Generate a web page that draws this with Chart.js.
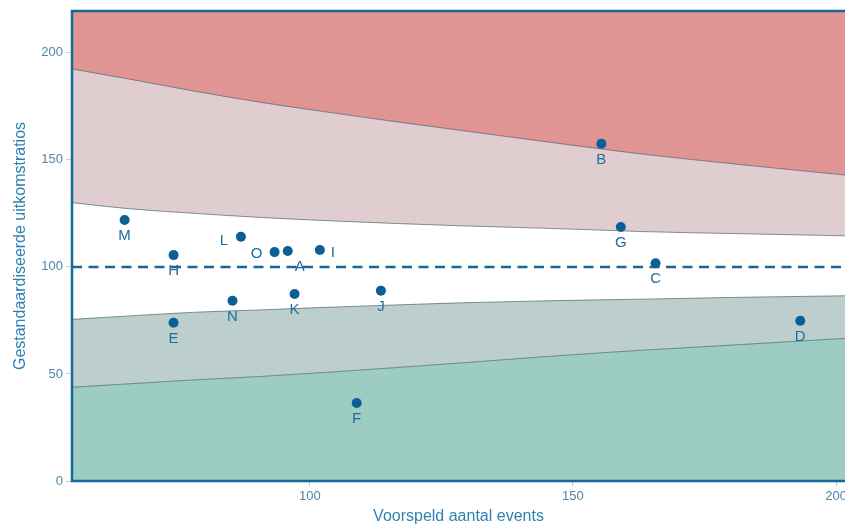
<!DOCTYPE html>
<html lang="nl">
<head>
<meta charset="utf-8">
<title>Funnelplot uitkomstratios</title>
<script src="https://cdn.jsdelivr.net/npm/chart.js@4/dist/chart.umd.min.js"></script>
<style>
  html, body { margin: 0; padding: 0; background: #ffffff; overflow: hidden; }
  #wrap { position: relative; width: 845px; height: 524px; }
</style>
</head>
<body>
<div id="wrap"><canvas id="funnel"></canvas></div>
<script>
// Ziekenhuizen (punten)
const pointLabels = ['A', 'B', 'C', 'D', 'E', 'F', 'G', 'H', 'I', 'J', 'K', 'L', 'M', 'N', 'O'];
const pointX = [95.8, 155.4, 165.7, 193.2, 74.1, 108.9, 159.1, 74.1, 101.9, 113.5, 97.1, 86.9, 64.8, 85.3, 93.3];
const pointY = [107.4, 157.5, 101.7, 74.8, 73.9, 36.4, 118.6, 105.5, 107.9, 88.9, 87.3, 114.1, 121.9, 84.2, 106.9];

const limitX = [54.8, 65, 78, 90.5, 103, 116, 128.5, 143.7, 155, 162.7, 181.7, 201.7];
const upperOuter = [192.4, 188.0, 182.1, 176.9, 172.4, 167.9, 163.8, 158.8, 155.2, 152.8, 147.8, 142.9];
const upperInner = [130.0, 127.3, 125.0, 123.1, 121.6, 120.3, 119.2, 118.1, 117.2, 116.5, 115.5, 114.5];
const lowerInner = [75.5, 77.0, 78.8, 79.9, 81.1, 82.2, 83.2, 84.1, 84.6, 84.9, 85.8, 86.5];
const lowerOuter = [43.8, 45.3, 47.2, 48.8, 50.7, 52.9, 55.1, 57.9, 59.8, 61.0, 63.7, 66.6];

const referenceValue = 100;
const xTicks = [100, 150, 200];
const yTicks = [0, 50, 100, 150, 200];

const COLORS = {
  redZone: '#e09494',
  pinkZone: '#e0cdcf',
  whiteZone: '#ffffff',
  greyZone: '#bccfcc',
  greenZone: '#9dcdc2',
  limitLine: 'rgba(40, 70, 90, 0.55)',
  point: '#0c5f95',
  pointLabel: '#1d6d9f',
  frame: '#15699a',
  refLine: '#1a6592',
  tickText: '#4f86a8',
  axisTitle: '#2f80b3',
  tickMark: '#c9c9c9',
};

const FONT = "'Liberation Sans', Arial, Helvetica, sans-serif";

const toXY = (ys) => ys.map((y, i) => ({ x: limitX[i], y }));

function limitDataset(label, values, fill, color) {
  return {
    type: 'line',
    label,
    data: toXY(values),
    borderColor: COLORS.limitLine,
    borderWidth: 1,
    backgroundColor: color,
    pointRadius: 0,
    cubicInterpolationMode: 'monotone',
    fill,
    order: 2,
  };
}

// Letters bij de punten: standaard onder het punt, enkele opzij (zoals in de bron)
const labelOffsets = { L: [-17, 4], O: [-18, 2], A: [12, 16], I: [13, 3] };

const overlayPlugin = {
  id: 'funnelOverlay',
  beforeDatasetsDraw(chart) {
    const { ctx, chartArea: a } = chart;
    ctx.save();
    ctx.fillStyle = COLORS.whiteZone;
    ctx.fillRect(a.left, a.top, a.right - a.left, a.bottom - a.top);
    ctx.restore();
  },
  afterDatasetsDraw(chart) {
    const { ctx, chartArea: a, scales } = chart;
    // referentielijn op 100
    const yRef = scales.y.getPixelForValue(referenceValue);
    ctx.save();
    ctx.beginPath();
    ctx.rect(a.left, a.top, a.right - a.left, a.bottom - a.top);
    ctx.clip();
    ctx.strokeStyle = COLORS.refLine;
    ctx.lineWidth = 2.5;
    ctx.setLineDash([10, 6.5]);
    ctx.beginPath();
    ctx.moveTo(a.left, yRef);
    ctx.lineTo(a.right, yRef);
    ctx.stroke();
    ctx.restore();

    // punten + letters
    const meta = chart.getDatasetMeta(chart.data.datasets.length - 1);
    ctx.save();
    meta.data.forEach((el) => {
      ctx.fillStyle = COLORS.point;
      ctx.beginPath();
      ctx.arc(el.x, el.y, 5, 0, Math.PI * 2);
      ctx.fill();
    });
    ctx.font = `15px ${FONT}`;
    ctx.fillStyle = COLORS.pointLabel;
    ctx.textAlign = 'center';
    ctx.textBaseline = 'middle';
    meta.data.forEach((el, i) => {
      const name = pointLabels[i];
      const [dx, dy] = labelOffsets[name] || [0, 16];
      ctx.fillText(name, el.x + dx, el.y + dy);
    });
    ctx.restore();
  },
  afterDraw(chart) {
    const { ctx, chartArea: a } = chart;
    ctx.save();
    ctx.strokeStyle = COLORS.frame;
    ctx.lineWidth = 2.5;
    ctx.beginPath();
    ctx.moveTo(a.right + 2, a.top);
    ctx.lineTo(a.left, a.top);
    ctx.lineTo(a.left, a.bottom);
    ctx.lineTo(a.right + 2, a.bottom);
    ctx.stroke();
    ctx.restore();
  },
};

const canvas = document.getElementById('funnel');
canvas.width = 845;
canvas.height = 524;

new Chart(canvas, {
  type: 'scatter',
  data: {
    datasets: [
      limitDataset('Bovengrens 99,8%', upperOuter, 'end', COLORS.redZone),
      limitDataset('Bovengrens 95%', upperInner, '-1', COLORS.pinkZone),
      limitDataset('Ondergrens 95%', lowerInner, false, 'transparent'),
      limitDataset('Ondergrens 99,8%', lowerOuter, '-1', COLORS.greyZone),
      Object.assign(limitDataset('Ondergrens 99,8% (vlak)', lowerOuter, 'start', COLORS.greenZone), { borderWidth: 0 }),
      {
        type: 'scatter',
        label: 'Ziekenhuizen',
        data: pointX.map((x, i) => ({ x, y: pointY[i] })),
        pointRadius: 0,
        pointHoverRadius: 0,
        backgroundColor: COLORS.point,
        order: 1,
      },
    ],
  },
  options: {
    responsive: false,
    animation: false,
    events: [],
    layout: { padding: { top: 11, right: 0, left: 0, bottom: 0 } },
    plugins: {
      legend: { display: false },
      tooltip: { enabled: false },
    },
    scales: {
      x: {
        type: 'linear',
        min: 54.8,
        max: 201.7,
        afterBuildTicks: (axis) => { axis.ticks = xTicks.map((v) => ({ value: v })); },
        afterFit: (axis) => { axis.height = 43; axis.paddingRight = 0; axis.paddingLeft = 0; },
        grid: { display: true, drawOnChartArea: false, drawTicks: true, tickLength: 5, color: COLORS.tickMark },
        border: { display: false },
        ticks: { color: COLORS.tickText, font: { family: FONT, size: 13 }, padding: 3, maxRotation: 0 },
        title: {
          display: true,
          text: 'Voorspeld aantal events',
          color: COLORS.axisTitle,
          font: { family: FONT, size: 16 },
          padding: { top: 0, bottom: -2 },
        },
      },
      y: {
        type: 'linear',
        min: 0,
        max: 219.5,
        afterBuildTicks: (axis) => { axis.ticks = yTicks.map((v) => ({ value: v })); },
        afterFit: (axis) => { axis.width = 72; },
        grid: { display: true, drawOnChartArea: false, drawTicks: true, tickLength: 6, color: COLORS.tickMark },
        border: { display: false },
        ticks: { color: COLORS.tickText, font: { family: FONT, size: 13 }, padding: 3 },
        title: {
          display: true,
          text: 'Gestandaardiseerde uitkomstratios',
          color: COLORS.axisTitle,
          font: { family: FONT, size: 16 },
          padding: { top: 11, bottom: 0 },
        },
      },
    },
  },
  plugins: [overlayPlugin],
});
</script>
</body>
</html>
